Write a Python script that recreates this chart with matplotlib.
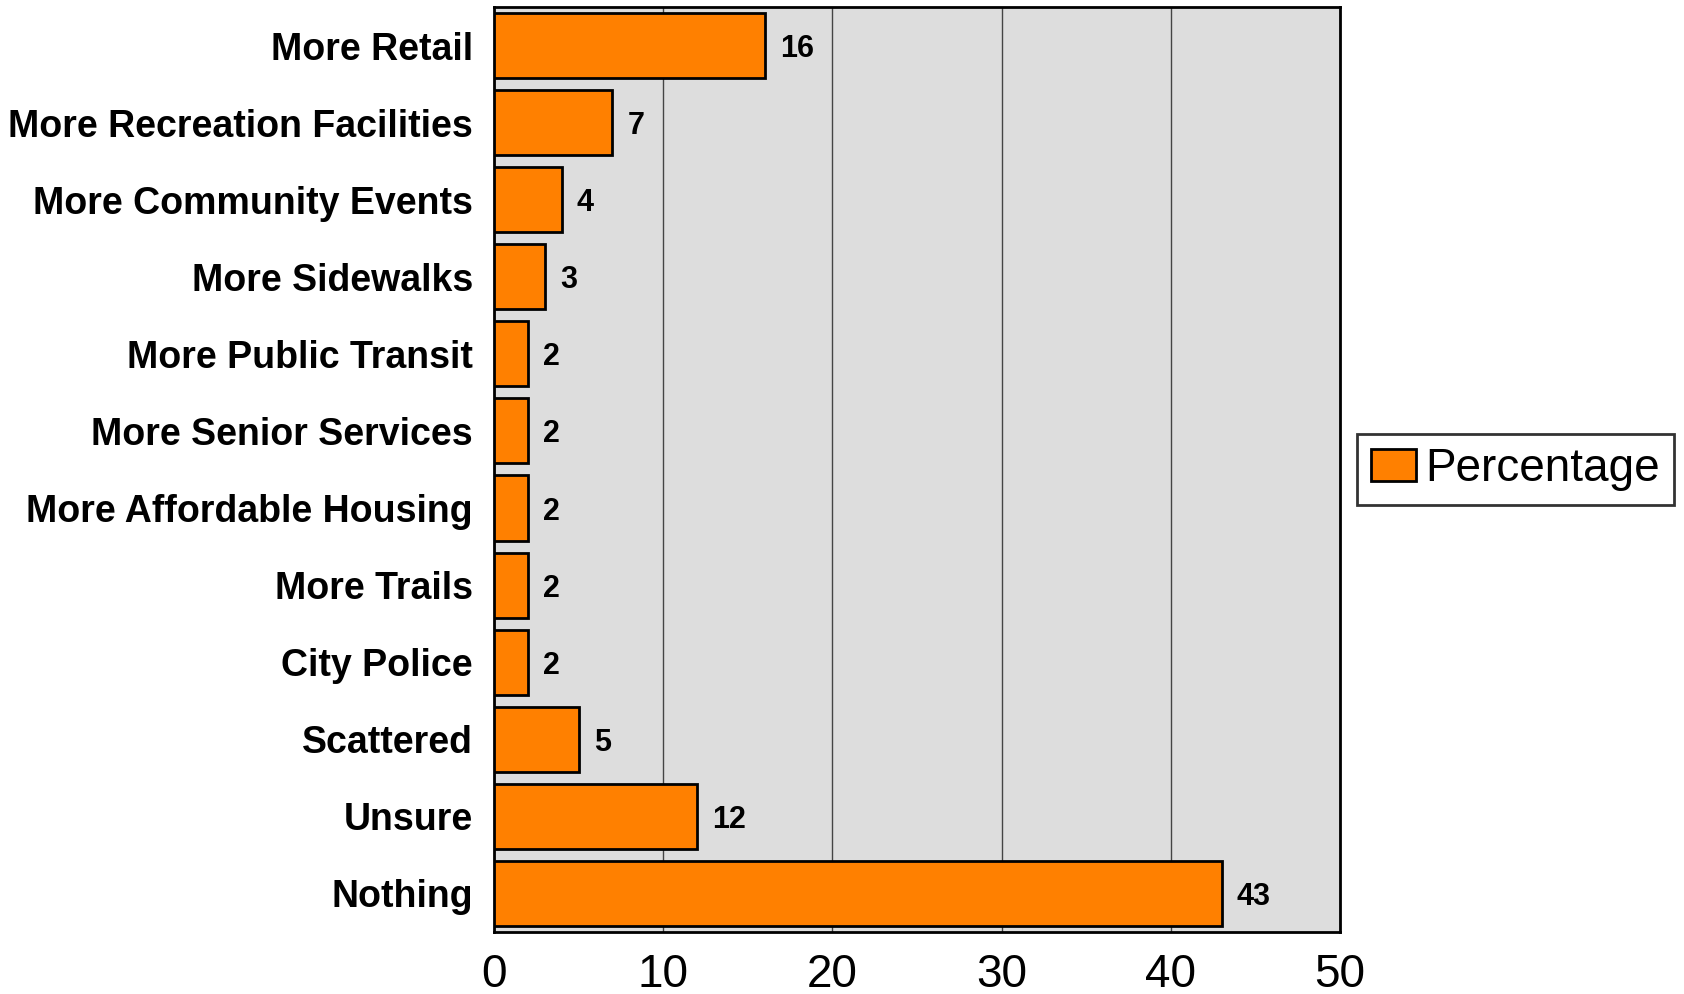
import matplotlib.pyplot as plt

categories = ['More Retail', 'More Recreation Facilities', 'More Community Events',
              'More Sidewalks', 'More Public Transit', 'More Senior Services',
              'More Affordable Housing', 'More Trails', 'City Police',
              'Scattered', 'Unsure', 'Nothing']
values = [16, 7, 4, 3, 2, 2, 2, 2, 2, 5, 12, 43]
xticks = [0, 10, 20, 30, 40, 50]

plt.rcParams['font.family'] = ['Liberation Sans', 'DejaVu Sans']

fig = plt.figure(figsize=(16.84, 9.94), dpi=100)
ax = fig.add_axes([0.2933, 0.0624, 0.5024, 0.9306])
ax.set_facecolor('#DDDDDD')

pos = list(range(len(categories)))
bars = ax.barh(pos, values, height=0.845, color='#FF8000', edgecolor='black',
               linewidth=2, label='Percentage', zorder=3)

for y, v in zip(pos, values):
    ax.text(v + 0.9, y, str(v), va='center_baseline', ha='left', fontsize=22,
            fontweight='bold', zorder=4)

ax.set_xlim(0, 50)
ax.set_ylim(len(categories) - 0.5, -0.5)
ax.set_xticks(xticks)
ax.set_xticklabels([str(t) for t in xticks], fontsize=33)
ax.set_yticks(pos)
ax.set_yticklabels(categories, fontsize=27, fontweight='bold')
ax.tick_params(axis='both', length=0)
ax.tick_params(axis='y', pad=15)
ax.tick_params(axis='x', pad=15)
ax.xaxis.grid(True, color='#444444', linewidth=1, zorder=1)

for s in ax.spines.values():
    s.set_linewidth(2)
    s.set_color('black')

leg = ax.legend(loc='center left', bbox_to_anchor=(1.02, 0.5), fontsize=33,
                frameon=True, fancybox=False, edgecolor='black',
                handlelength=1.0, handleheight=0.7, handletextpad=0.2,
                borderpad=0.3, borderaxespad=0)
leg.get_frame().set_linewidth(2)

fig.savefig('out.png', dpi=100)
